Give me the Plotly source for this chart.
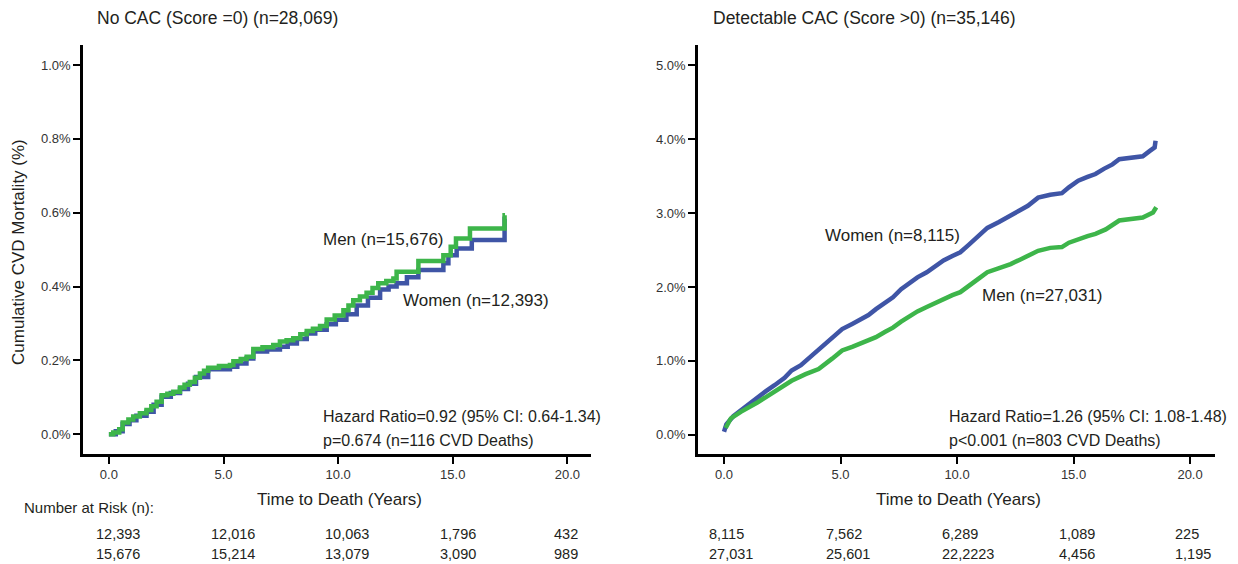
import plotly.graph_objects as go

# ---------------- data ----------------
# Left panel: No CAC (Score = 0)
nocac_women_t = [0.0, 0.3, 0.60, 0.9, 1.2, 1.64, 1.95, 2.30, 2.7, 3.10, 3.45, 3.8, 4.33, 5.28, 5.6, 6.0,
                 6.30, 6.9, 7.46, 7.8, 8.2, 8.63, 9.0, 9.50, 9.9, 10.36, 10.81, 11.3, 11.83, 12.2, 12.55,
                 13.0, 13.50, 14.59, 14.81, 15.17, 15.83, 17.26, 17.28]
nocac_women_v = [0.0, 0.008, 0.028, 0.038, 0.050, 0.061, 0.080, 0.102, 0.112, 0.123, 0.137, 0.155, 0.176,
                 0.183, 0.192, 0.205, 0.224, 0.230, 0.237, 0.246, 0.258, 0.273, 0.283, 0.298, 0.310, 0.325,
                 0.349, 0.370, 0.392, 0.400, 0.409, 0.425, 0.445, 0.463, 0.485, 0.503, 0.526, 0.584, 0.584]
nocac_men_t = [0.0, 0.19, 0.45, 0.60, 0.85, 1.06, 1.35, 1.64, 1.85, 2.08, 2.30, 2.55, 2.81, 3.10, 3.30,
               3.53, 3.75, 3.97, 4.15, 4.33, 4.8, 5.28, 5.43, 5.75, 6.01, 6.30, 6.7, 7.17, 7.46, 7.75,
               8.04, 8.35, 8.63, 8.9, 9.21, 9.50, 9.85, 10.23, 10.45, 10.66, 10.95, 11.24, 11.5, 11.75,
               12.1, 12.41, 12.55, 13.50, 14.59, 14.91, 15.14, 15.75, 17.26, 17.28]
nocac_men_v = [0.0, 0.005, 0.014, 0.032, 0.040, 0.048, 0.057, 0.066, 0.076, 0.088, 0.106, 0.110, 0.115,
               0.127, 0.134, 0.142, 0.153, 0.165, 0.172, 0.180, 0.185, 0.188, 0.198, 0.204, 0.210, 0.231,
               0.236, 0.242, 0.251, 0.255, 0.260, 0.271, 0.280, 0.286, 0.293, 0.311, 0.322, 0.336, 0.349,
               0.363, 0.373, 0.383, 0.396, 0.409, 0.415, 0.422, 0.440, 0.469, 0.485, 0.508, 0.530, 0.557,
               0.593, 0.593]

# Right panel: Detectable CAC (Score > 0)
cac_women_t = [0.0, 0.1, 0.4, 0.72, 1.1, 1.45, 1.8, 2.17, 2.6, 2.9, 3.3, 3.62, 4.0, 4.35, 4.7, 5.07, 5.5,
               5.8, 6.2, 6.52, 6.9, 7.25, 7.6, 7.97, 8.3, 8.7, 9.1, 9.42, 9.8, 10.14, 10.5, 10.87, 11.3,
               11.8, 12.3, 12.7, 13.04, 13.48, 14.0, 14.5, 14.8, 15.2, 15.6, 15.94, 16.3, 16.67, 16.96,
               17.5, 17.97, 18.26, 18.48, 18.52]
cac_women_v = [0.04, 0.14, 0.25, 0.33, 0.42, 0.51, 0.59, 0.67, 0.77, 0.87, 0.94, 1.03, 1.13, 1.23, 1.33,
               1.43, 1.50, 1.55, 1.62, 1.70, 1.79, 1.86, 1.97, 2.06, 2.13, 2.20, 2.29, 2.36, 2.42, 2.47,
               2.57, 2.67, 2.80, 2.88, 2.96, 3.04, 3.10, 3.21, 3.25, 3.27, 3.35, 3.44, 3.49, 3.53, 3.60,
               3.66, 3.73, 3.75, 3.77, 3.84, 3.89, 3.98]
cac_men_t = [0.07, 0.29, 0.72, 1.1, 1.45, 1.8, 2.17, 2.5, 2.9, 3.5, 4.06, 4.64, 5.07, 5.5, 5.8, 6.2, 6.52,
             6.9, 7.25, 7.6, 7.97, 8.3, 8.7, 9.1, 9.42, 9.8, 10.14, 10.58, 11.0, 11.3, 11.8, 12.3, 12.7,
             13.04, 13.48, 14.0, 14.5, 14.8, 15.2, 15.6, 15.94, 16.38, 16.96, 17.5, 17.97, 18.41, 18.55]
cac_men_v = [0.09, 0.22, 0.31, 0.37, 0.44, 0.51, 0.58, 0.64, 0.73, 0.82, 0.89, 1.03, 1.14, 1.19, 1.23,
             1.28, 1.32, 1.39, 1.45, 1.53, 1.61, 1.67, 1.73, 1.79, 1.84, 1.89, 1.93, 2.04, 2.13, 2.20,
             2.25, 2.31, 2.37, 2.42, 2.49, 2.53, 2.54, 2.60, 2.65, 2.69, 2.72, 2.78, 2.90, 2.92, 2.94,
             3.01, 3.08]

x_ticks = [0, 5, 10, 15, 20]
left_y_ticks = [0.0, 0.2, 0.4, 0.6, 0.8, 1.0]
right_y_ticks = [0.0, 1.0, 2.0, 3.0, 4.0, 5.0]

risk_nocac_women = ["12,393", "12,016", "10,063", "1,796", "432"]
risk_nocac_men = ["15,676", "15,214", "13,079", "3,090", "989"]
risk_cac_women = ["8,115", "7,562", "6,289", "1,089", "225"]
risk_cac_men = ["27,031", "25,601", "22,2223", "4,456", "1,195"]

titles = ["No CAC (Score =0) (n=28,069)", "Detectable CAC (Score >0) (n=35,146)"]
hr_left = ["Hazard Ratio=0.92 (95% CI: 0.64-1.34)", "p=0.674 (n=116 CVD Deaths)"]
hr_right = ["Hazard Ratio=1.26 (95% CI: 1.08-1.48)", "p<0.001 (n=803 CVD Deaths)"]

# ---------------- style ----------------
W, H = 1238, 564
BLUE = "#3F55A6"
GREEN = "#3DB54A"
FONT = "Liberation Sans, Arial, sans-serif"
TXT = "#231F20"


def px(x):
    return x / W


def py(y):
    return 1 - y / H


fig = go.Figure()
fig.add_trace(go.Scatter(x=nocac_women_t, y=nocac_women_v, mode="lines", line=dict(color=BLUE, width=4.5, shape="hv"),
                         xaxis="x", yaxis="y", showlegend=False))
fig.add_trace(go.Scatter(x=nocac_men_t, y=nocac_men_v, mode="lines", line=dict(color=GREEN, width=4.5, shape="hv"),
                         xaxis="x", yaxis="y", showlegend=False))
fig.add_trace(go.Scatter(x=cac_women_t, y=cac_women_v, mode="lines", line=dict(color=BLUE, width=4.5),
                         xaxis="x2", yaxis="y2", showlegend=False))
fig.add_trace(go.Scatter(x=cac_men_t, y=cac_men_v, mode="lines", line=dict(color=GREEN, width=4.5),
                         xaxis="x2", yaxis="y2", showlegend=False))

axis_common = dict(showline=True, linecolor="black", linewidth=2.5, ticks="outside", ticklen=7, tickwidth=2,
                   tickcolor="black", showgrid=False, zeroline=False,
                   tickfont=dict(family=FONT, size=13, color="#333333"))

fig.update_layout(
    width=W, height=H, margin=dict(l=0, r=0, t=0, b=0),
    paper_bgcolor="white", plot_bgcolor="white", showlegend=False,
    xaxis=dict(domain=[px(83), px(591)], range=[-1.13, 21.03], tickvals=x_ticks,
               ticktext=[f"{v:.1f}" for v in x_ticks], anchor="y", **axis_common),
    yaxis=dict(domain=[py(454), py(45)], range=[-0.0533, 1.0542], tickvals=left_y_ticks,
               ticktext=[f"{v:.1f}%" for v in left_y_ticks], anchor="x", **axis_common),
    xaxis2=dict(domain=[px(698), px(1215)], range=[-1.116, 21.07], tickvals=x_ticks,
                ticktext=[f"{v:.1f}" for v in x_ticks], anchor="y2", **axis_common),
    yaxis2=dict(domain=[py(454), py(45)], range=[-0.2615, 5.277], tickvals=right_y_ticks,
                ticktext=[f"{v:.1f}%" for v in right_y_ticks], anchor="x2", **axis_common),
)

ann = []


def text(x, y, s, size=16, xanchor="left", angle=0):
    ann.append(dict(x=px(x), y=py(y), xref="paper", yref="paper", text=s, showarrow=False,
                    xanchor=xanchor, yanchor="middle", textangle=angle,
                    font=dict(family=FONT, size=size, color=TXT)))


text(95, 18, titles[0], size=17.5)
text(711, 18, titles[1], size=17.5)
text(18, 252, "Cumulative CVD Mortality (%)", size=17, xanchor="center", angle=-90)
text(340, 499, "Time to Death (Years)", size=17, xanchor="center")
text(958, 499, "Time to Death (Years)", size=17, xanchor="center")
text(22, 507, "Number at Risk (n):", size=15)

text(321, 240, "Men (n=15,676)", size=17)
text(401, 300, "Women (n=12,393)", size=17)
text(823, 235, "Women (n=8,115)", size=17)
text(980, 295, "Men (n=27,031)", size=17)

text(321, 416, hr_left[0], size=16)
text(321, 440, hr_left[1], size=16)
text(947, 416, hr_right[0], size=16)
text(947, 440, hr_right[1], size=16)

left_tick_px = [109, 224, 338, 453, 567]
right_tick_px = [724, 841, 957, 1074, 1190]
for i in range(5):
    text(left_tick_px[i] - 15, 534, risk_nocac_women[i], size=14.5)
    text(left_tick_px[i] - 15, 554, risk_nocac_men[i], size=14.5)
    text(right_tick_px[i] - 17, 534, risk_cac_women[i], size=14.5)
    text(right_tick_px[i] - 17, 554, risk_cac_men[i], size=14.5)

fig.update_layout(annotations=ann)
fig.write_html("out.html", config={"displayModeBar": False},
               post_script="document.body.style.margin='0';document.body.style.padding='0';")
